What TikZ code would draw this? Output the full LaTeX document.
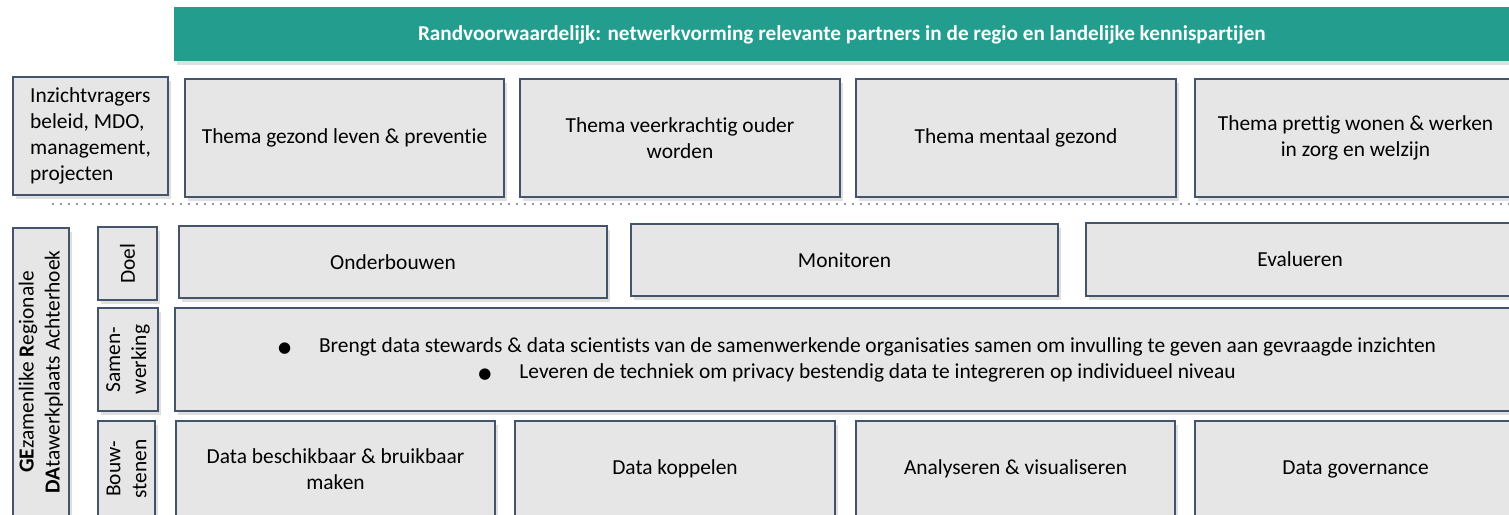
\documentclass[tikz,border=0pt]{standalone}
\usepackage{fontspec}
\setmainfont{Carlito}[Ligatures=NoCommon]
\newfontfamily\symbfont{DejaVu Sans}
\usetikzlibrary{shadows}

\definecolor{randkleur}{HTML}{44546A}
\definecolor{vlakkleur}{HTML}{E6E6E6}
\definecolor{teal}{HTML}{239D8E}

\tikzset{
  blok/.style={draw=randkleur, fill=vlakkleur, line width=1pt, anchor=north west,
    inner sep=2pt, align=center, font=\fontsize{10.7}{13}\selectfont,
    drop shadow={opacity=0.25, shadow xshift=1.5pt, shadow yshift=-2pt}},
  staand/.style={rotate=90, align=center, font=\fontsize{10.7}{13}\selectfont}
}
\newcommand{\bolletje}{\hspace*{12pt}\makebox[20.5pt][l]{\symbfont\fontsize{7.5}{9}\selectfont ●}}

\begin{document}
\begin{tikzpicture}[x=0.5pt, y=-0.5pt]
  \useasboundingbox (0,0) rectangle (1509,514);

  % randvoorwaarde
  \node[anchor=north west, fill=teal, minimum width=667.5pt, minimum height=27pt,
    text=white, font=\bfseries\fontsize{10.6}{12}\selectfont,
    drop shadow={opacity=0.25, shadow xshift=1.5pt, shadow yshift=-2pt}]
    (rand) at (174,7) {Randvoorwaardelijk: netwerkvorming relevante partners in de regio en landelijke kennispartijen};

  % inzichtvragers en thema's
  \node[blok, minimum width=77.5pt, minimum height=59pt, align=left] (inz) at (12,76)
    {Inzichtvragers\\beleid, MDO,\\management,\\projecten};
  \node[blok, minimum width=159.5pt, minimum height=59pt] (t1) at (184,78) {Thema gezond leven \& preventie};
  \node[blok, minimum width=160pt, minimum height=59pt] (t2) at (519,78) {Thema veerkrachtig ouder\\worden};
  \node[blok, minimum width=160pt, minimum height=59pt] (t3) at (855,78) {Thema mentaal gezond};
  \node[blok, minimum width=160.5pt, minimum height=59pt] (t4) at (1194,78) {Thema prettig wonen \& werken\\in zorg en welzijn};

  % scheiding
  \coordinate (sl) at (53,204);
  \coordinate (sr) at (1512,204);
  \draw[randkleur!80, line width=1.2pt, line cap=round, dash pattern=on 0pt off 4pt] (sl) -- (sr);

  % gedeelde werkplaats
  \node[blok, minimum width=28pt, minimum height=144pt] (geda) at (12,227) {};
  \node[staand] at (geda.center) {\textbf{GE}zamenlike \textbf{R}egionale\\\textbf{DA}tawerkplaats Achterhoek};

  \node[blok, minimum width=29.5pt, minimum height=36.5pt] (doel) at (97,226) {};
  \node[staand] at (doel.center) {Doel};
  \node[blok, minimum width=30pt, minimum height=51.5pt] (samen) at (97,307) {};
  \node[staand] at (samen.center) {Samen-\\werking};
  \node[blok, minimum width=28.5pt, minimum height=48pt] (bouw) at (97,420) {};
  \node[staand] at (bouw.center) {Bouw-\\stenen};

  % doelen
  \node[blok, minimum width=214pt, minimum height=36pt] (onder) at (178,225) {Onderbouwen};
  \node[blok, minimum width=213.5pt, minimum height=36pt] (moni) at (630,223) {Monitoren};
  \node[blok, minimum width=214pt, minimum height=36.5pt] (eval) at (1085,222) {Evalueren};

  % samenwerking
  \node[blok, minimum width=670pt, minimum height=51.5pt] (samtekst) at (174,307)
    {\bolletje Brengt data stewards \& data scientists van de samenwerkende organisaties samen om invulling te geven aan gevraagde inzichten\\
     \bolletje Leveren de techniek om privacy bestendig data te integreren op individueel niveau};

  % bouwstenen
  \node[blok, minimum width=159.5pt, minimum height=48pt] (b1) at (175,420) {Data beschikbaar \& bruikbaar\\maken};
  \node[blok, minimum width=160pt, minimum height=48pt] (b2) at (514,420) {Data koppelen};
  \node[blok, minimum width=159.5pt, minimum height=48pt] (b3) at (855,420) {Analyseren \& visualiseren};
  \node[blok, minimum width=160.5pt, minimum height=48pt] (b4) at (1194,420) {Data governance};
\end{tikzpicture}
\end{document}
